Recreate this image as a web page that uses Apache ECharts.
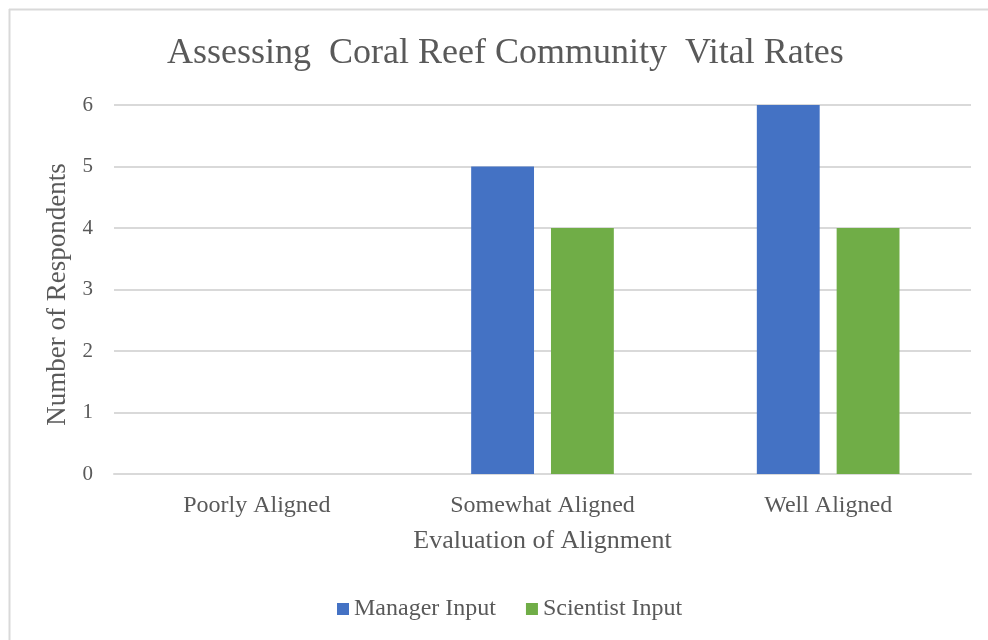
<!DOCTYPE html>
<html>
<head>
<meta charset="utf-8">
<script src="https://cdn.jsdelivr.net/npm/echarts@6/dist/echarts.min.js"></script>
<style>
html,body{margin:0;padding:0;background:#fff;}
#chart{width:988px;height:640px;}
</style>
</head>
<body>
<div id="chart"></div>
<script>
const categories = ['Poorly Aligned', 'Somewhat Aligned', 'Well Aligned'];
const managerInput = [0, 5, 6];
const scientistInput = [0, 4, 4];
const yTicks = [0, 1, 2, 3, 4, 5, 6];

const FONT = '"Liberation Serif", "Times New Roman", serif';
const TXT = '#595959';
const chart = echarts.init(document.getElementById('chart'));
chart.setOption({
  animation: false,
  backgroundColor: '#fff',
  graphic: [
    { type: 'line', silent: true, shape: { x1: 9.5, y1: 9, x2: 9.5, y2: 640 },
      style: { stroke: '#d9d9d9', lineWidth: 2 } },
    { type: 'line', silent: true, shape: { x1: 9, y1: 9.5, x2: 988, y2: 9.5 },
      style: { stroke: '#d9d9d9', lineWidth: 2 } }
  ],
  title: {
    text: 'Assessing  Coral Reef Community  Vital Rates',
    left: 162, top: 31,
    textStyle: { fontFamily: FONT, fontSize: 36, fontWeight: 'normal', color: TXT }
  },
  legend: {
    bottom: 14, left: 332,
    itemWidth: 12, itemHeight: 12, itemGap: 30,
    icon: 'rect',
    textStyle: { fontFamily: FONT, fontSize: 24, color: TXT },
    data: ['Manager Input', 'Scientist Input']
  },
  grid: { left: 114, right: 17, top: 105, bottom: 166, containLabel: false },
  xAxis: {
    type: 'category', data: categories,
    axisLine: { lineStyle: { color: '#d9d9d9', width: 2 } },
    axisTick: { show: false },
    axisLabel: { fontFamily: FONT, fontSize: 24, color: TXT, margin: 20 },
    name: 'Evaluation of Alignment', nameLocation: 'middle', nameGap: 54,
    nameTextStyle: { fontFamily: FONT, fontSize: 26, color: TXT }
  },
  yAxis: {
    type: 'value', min: 0, max: 6, interval: 1,
    axisLine: { show: false }, axisTick: { show: false },
    splitLine: { lineStyle: { color: '#d9d9d9', width: 2 } },
    axisLabel: { fontFamily: FONT, fontSize: 21, color: TXT, margin: 21,
      formatter: v => yTicks.includes(v) ? String(v) : '' },
    name: 'Number of Respondents', nameLocation: 'middle', nameGap: 42, nameRotate: 90,
    nameTextStyle: { fontFamily: FONT, fontSize: 27, color: TXT, padding: [0, 10, 0, 0] }
  },
  series: [
    { name: 'Manager Input', type: 'bar', data: managerInput, barWidth: '22%', barGap: '27%',
      itemStyle: { color: '#4472C4' } },
    { name: 'Scientist Input', type: 'bar', data: scientistInput, barWidth: '22%', barGap: '27%',
      itemStyle: { color: '#70AD47' } }
  ]
});
</script>
</body>
</html>
